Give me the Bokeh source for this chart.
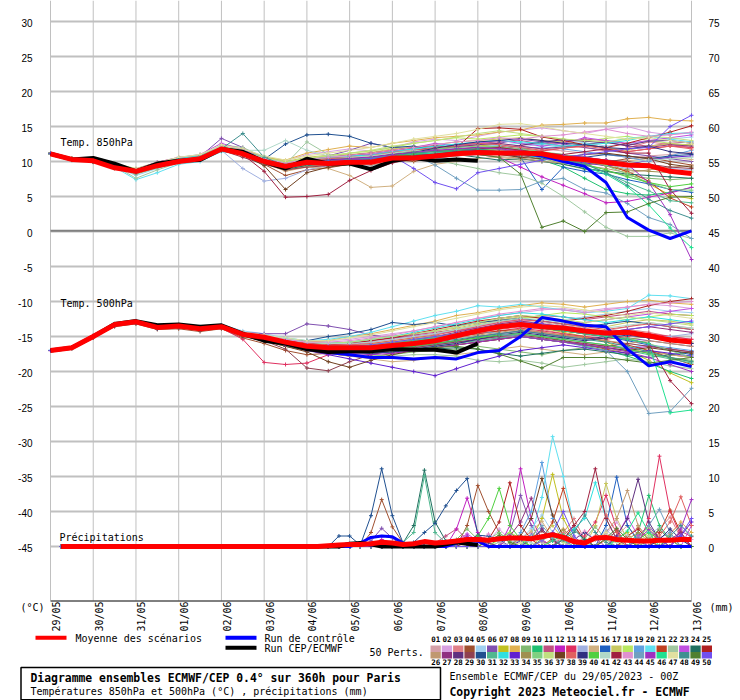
from math import pi
from bokeh.plotting import figure
from bokeh.models import Range1d, ColumnDataSource
from bokeh.core.properties import value
from bokeh.embed import file_html
from bokeh.resources import INLINE

# ---------------- data ----------------
DATES = ["29/05", "30/05", "31/05", "01/06", "02/06", "03/06", "04/06", "05/06",
         "06/06", "07/06", "08/06", "09/06", "10/06", "11/06", "12/06", "13/06"]
LEFT_TICKS = list(range(-45, 31, 5))    # °C
RIGHT_TICKS = list(range(0, 76, 5))     # mm

COLORS = ["#d4a0a8", "#d8a0e0", "#e08088", "#a05030", "#a0d0f0", "#8050b0", "#c0c020", "#e0b050",
          "#80b870", "#20c070", "#c05080", "#c020c0", "#e03060", "#a0b0e0", "#d0b080", "#2060c0",
          "#c8c860", "#b8e860", "#60a0e0", "#60e0f0", "#c04020", "#a0c8a0", "#c050e0", "#207060",
          "#b02020", "#c09870", "#903080", "#603080", "#904050", "#205090", "#50b890", "#30e0e0",
          "#6020d0", "#a09050", "#80d080", "#c0e080", "#704020", "#e06060", "#303080", "#50d040",
          "#b0d8c8", "#a02040", "#e090d0", "#70a0c0", "#a030c0", "#20e090", "#e0e0a0", "#409090",
          "#508030", "#7050f0"]

HOURS_T = list(range(0, 361, 12))      # temperature steps (h)
HOURS_P = list(range(6, 361, 6))       # precipitation steps (h)

T850 = [
    [11.2,10.4,10.0,9.2,8.3,9.2,10.0,10.5,11.6,11.0,10.2,9.8,10.4,10.5,10.9,11.2,11.6,11.5,11.8,12.0,12.2,12.4,12.1,11.8,11.5,11.2,11.0,10.6,10.8,11.0,11.3],
    [11.0,10.2,10.3,9.6,8.9,9.8,10.5,10.8,12.3,11.6,10.6,10.1,11.0,11.4,11.8,11.5,12.0,12.8,13.2,13.0,13.6,14.2,14.5,14.8,14.4,14.0,14.6,15.0,14.2,13.8,14.1],
    [11.1,10.3,10.1,9.5,8.5,9.4,10.2,10.6,11.9,11.3,10.1,9.0,9.5,9.8,10.2,10.6,11.0,10.8,11.3,11.7,12.1,11.8,12.3,12.6,12.2,12.0,11.5,11.9,12.8,12.4,12.0],
    [11.1,10.4,9.9,9.0,8.4,9.6,10.3,10.9,12.0,11.0,9.6,8.0,8.8,9.1,9.6,9.8,10.3,10.0,10.6,10.9,11.0,11.4,11.2,10.8,10.2,9.5,9.9,10.4,10.6,10.0,9.5],
    [11.0,10.2,10.2,9.3,8.0,9.0,10.0,10.2,11.4,11.5,10.8,9.9,10.2,10.6,11.0,10.8,11.3,11.6,11.4,11.9,12.5,12.3,12.0,12.6,13.0,12.7,12.2,12.5,12.9,13.2,13.5],
    [11.2,10.3,10.0,9.4,8.7,9.7,10.4,10.7,13.3,12.0,10.4,9.4,10.2,10.8,11.6,12.6,12.0,11.8,12.2,12.0,12.4,12.6,13.2,12.8,12.5,12.0,11.6,11.2,10.8,10.4,10.0],
    [11.1,10.3,10.2,9.5,8.8,9.6,10.4,10.8,11.9,11.4,10.4,9.8,10.2,10.6,10.4,10.6,11.0,11.4,11.8,12.2,12.4,12.0,11.6,11.3,10.8,10.5,10.0,8.4,6.8,5.2,4.7],
    [11.0,10.2,10.0,9.3,8.6,9.4,10.2,10.6,12.1,11.8,10.6,10.2,11.2,11.7,12.2,12.0,12.6,13.0,13.4,13.6,13.8,14.2,14.5,15.2,15.3,15.5,15.5,16.1,16.3,15.9,15.8],
    [11.2,10.4,10.1,9.2,8.2,9.1,9.8,10.2,11.5,11.0,9.8,8.8,9.4,9.6,9.8,10.0,10.4,10.9,11.2,11.0,11.5,11.8,11.2,10.5,9.6,8.9,8.6,8.0,7.6,7.4,7.6],
    [11.1,10.3,10.0,9.3,8.4,9.3,9.9,10.3,11.7,11.2,10.0,9.1,9.6,9.9,10.1,10.5,10.8,10.6,11.0,11.4,11.6,11.3,11.0,10.2,9.2,7.6,6.0,5.4,5.2,5.6,6.3],
    [11.0,10.3,10.2,9.6,8.9,9.9,10.6,10.9,12.0,11.3,10.3,9.6,10.0,10.3,10.6,11.0,11.2,11.6,11.9,12.4,12.6,12.8,13.0,12.5,12.8,13.2,13.0,12.5,12.2,12.6,12.8],
    [11.1,10.4,10.1,9.4,8.6,9.5,10.2,10.5,11.9,11.3,10.2,9.3,9.8,10.0,10.2,10.4,10.2,10.4,10.8,10.9,11.0,10.6,9.2,7.8,6.6,5.4,4.1,4.3,4.9,5.5,6.3],
    [11.2,10.3,10.0,9.2,8.4,9.4,10.0,10.3,11.6,11.0,10.0,9.2,9.6,9.4,9.8,10.2,10.6,11.0,11.4,11.6,12.0,12.2,11.8,11.5,11.9,12.3,12.0,11.4,11.8,12.2,12.0],
    [11.0,10.3,10.1,9.5,8.7,9.4,10.0,10.4,11.6,9.0,7.2,7.6,8.8,9.4,9.8,9.4,10.0,10.4,10.6,10.8,11.0,11.6,11.4,11.0,10.6,10.2,9.6,9.0,9.4,9.0,8.8],
    [11.1,10.2,10.0,9.3,8.5,9.2,9.8,10.3,11.5,11.0,9.8,8.6,9.2,9.0,8.0,6.3,6.5,8.6,9.6,10.0,10.4,10.6,10.2,10.4,10.0,9.8,9.6,10.1,10.4,10.6,10.3],
    [11.1,10.3,10.1,9.4,8.6,9.4,10.1,10.5,11.8,11.2,10.2,9.4,10.0,10.2,10.5,10.7,11.0,11.2,11.5,11.4,11.6,11.2,10.6,6.0,9.2,8.6,8.2,7.4,6.8,6.0,5.6],
    [11.0,10.4,10.3,9.7,9.0,9.9,10.5,10.9,12.2,11.6,10.6,10.0,10.6,10.9,11.0,11.3,11.8,12.1,12.4,12.8,13.0,13.2,13.4,13.0,12.8,12.4,12.0,11.6,12.2,12.5,12.4],
    [11.2,10.3,10.0,9.4,8.7,9.6,10.3,10.6,11.9,11.2,10.4,10.0,10.4,10.8,11.2,11.5,12.0,12.6,13.0,13.4,13.2,13.5,13.8,13.6,13.2,12.9,13.3,13.6,13.0,12.6,12.2],
    [11.1,10.3,10.1,9.3,8.4,9.3,9.9,10.2,11.5,11.0,9.9,9.0,9.5,9.6,9.8,10.0,10.6,10.8,10.4,10.9,11.2,11.5,11.8,12.1,11.8,11.4,11.0,10.6,10.0,10.8,11.6],
    [11.0,10.2,10.0,9.2,7.4,8.4,9.6,10.0,11.4,11.1,10.2,9.6,10.2,10.4,10.8,11.2,11.4,11.8,12.0,12.3,12.5,12.3,12.6,12.4,12.0,12.5,12.8,13.3,13.6,13.2,12.8],
    [11.1,10.3,10.1,9.5,8.6,9.4,10.0,10.4,11.7,11.1,9.9,9.0,9.5,9.8,10.2,10.4,10.9,11.0,11.3,11.5,11.7,11.4,11.2,10.8,10.4,10.0,9.4,8.6,7.2,4.8,3.5],
    [11.1,10.4,10.2,9.4,7.6,8.8,9.8,10.4,12.4,12.0,10.6,9.6,12.8,11.0,10.3,10.8,10.8,10.6,10.2,9.6,9.0,8.4,8.0,6.9,5.0,2.8,0.6,-0.7,-0.7,-0.2,-1.0],
    [11.0,10.3,10.1,9.5,8.9,9.9,10.5,11.0,12.6,11.7,10.4,9.6,10.0,10.4,10.8,11.0,11.4,12.0,12.6,12.2,12.6,13.0,12.6,12.2,12.6,13.4,13.0,12.6,13.0,13.4,13.8],
    [11.1,10.3,10.0,9.3,8.5,9.4,10.0,10.3,11.6,11.0,9.7,8.9,9.4,9.6,9.9,10.0,10.4,10.6,10.8,11.0,10.6,10.2,10.4,10.0,9.6,9.0,8.6,8.2,8.0,7.8,7.6],
    [11.1,10.4,10.1,9.5,8.7,9.6,10.2,10.6,11.9,11.3,10.3,9.6,10.3,10.6,10.9,11.2,11.6,12.0,12.3,12.0,14.7,14.8,14.6,13.5,13.0,12.4,12.0,12.6,13.4,14.2,15.1],
    [11.2,10.4,10.2,9.4,8.5,9.3,10.0,10.4,11.6,11.0,9.7,8.7,9.3,9.5,9.7,9.5,10.0,10.2,10.5,10.8,11.0,10.7,10.5,10.0,9.8,9.4,9.0,8.4,8.8,9.2,9.4],
    [11.0,10.3,10.1,9.4,8.7,9.5,10.1,10.4,12.0,11.4,10.2,9.5,10.0,10.3,10.6,10.6,11.0,11.3,11.7,12.1,12.4,12.6,12.2,11.8,12.1,12.4,12.8,12.2,12.0,12.4,12.2],
    [11.1,10.3,10.1,9.5,8.7,9.6,10.2,10.5,11.9,11.2,10.1,9.2,9.8,10.1,10.4,10.6,11.0,11.4,11.5,11.8,12.0,11.8,12.3,12.8,13.1,12.9,12.7,12.3,12.9,13.0,12.6],
    [11.1,10.2,10.0,9.3,8.6,9.4,10.0,10.3,11.6,10.6,9.6,8.8,9.2,9.4,9.6,9.9,10.2,10.5,10.8,11.2,11.4,11.0,10.8,10.6,10.4,10.6,10.2,10.0,9.6,9.2,9.0],
    [11.1,10.3,10.1,9.4,8.6,9.5,10.1,10.4,11.8,11.2,10.3,12.5,13.8,13.9,13.6,12.6,12.0,12.2,11.6,11.4,11.8,12.0,11.6,11.2,10.9,10.6,11.0,10.8,10.4,10.8,11.0],
    [11.2,10.3,10.0,9.3,8.5,9.3,10.0,10.4,11.6,11.0,9.8,9.0,9.6,9.8,10.0,10.3,10.7,11.0,11.3,11.6,11.9,12.0,11.6,11.2,10.6,9.8,8.4,7.0,5.8,4.4,4.1],
    [11.0,10.3,10.2,9.6,8.8,9.7,10.4,10.8,12.0,11.5,10.5,9.8,10.3,10.6,10.8,10.9,11.4,11.8,12.2,12.5,12.8,13.0,12.8,12.6,12.2,12.4,12.6,13.0,13.6,14.0,14.1],
    [11.1,10.3,10.1,9.4,8.6,9.5,10.1,10.5,11.8,11.2,10.1,9.4,9.9,10.2,10.4,10.6,10.9,11.0,11.2,11.3,11.5,11.2,11.0,10.6,10.2,9.8,9.4,9.6,10.2,10.6,10.8],
    [11.1,10.3,10.0,9.2,8.4,9.4,10.0,10.4,11.7,11.0,9.9,9.1,9.7,10.0,10.3,10.5,10.8,11.2,11.5,11.6,11.8,11.5,11.2,11.0,10.6,10.0,9.4,8.8,8.6,8.4,8.5],
    [11.2,10.4,10.2,9.5,8.8,9.7,10.3,10.6,11.8,11.2,10.4,9.7,10.2,10.4,10.6,10.8,11.2,11.4,11.8,12.0,12.2,12.1,11.8,11.4,11.0,10.4,9.4,8.2,7.0,6.0,5.9],
    [11.0,10.3,10.1,9.4,8.6,9.5,10.2,10.6,12.0,11.4,10.5,9.9,10.4,10.8,11.2,11.6,12.2,12.6,13.0,13.5,14.0,14.4,14.0,13.6,13.2,13.0,12.8,13.2,13.6,13.4,13.0],
    [11.1,10.3,10.0,9.4,8.6,9.4,10.0,10.3,11.6,11.0,9.4,6.0,8.4,9.2,9.6,9.8,10.3,10.6,10.9,11.2,11.4,11.0,10.6,10.4,10.6,11.0,11.2,10.8,10.4,9.6,9.2],
    [11.1,10.3,10.1,9.5,8.7,9.6,10.2,10.6,11.9,11.3,10.2,9.6,10.1,10.4,10.6,10.8,11.3,11.6,12.0,12.3,12.6,12.4,12.0,11.6,11.9,12.2,11.8,11.4,11.8,12.2,11.8],
    [11.1,10.3,10.0,9.3,8.5,9.4,10.0,10.3,11.7,11.1,10.0,9.2,9.8,10.1,10.3,10.4,10.9,11.3,11.9,12.4,12.8,13.0,13.3,13.0,12.6,12.4,12.0,11.8,12.2,11.4,11.1],
    [11.2,10.4,10.1,9.4,8.6,9.5,10.1,10.5,11.8,11.2,10.1,9.4,9.9,10.1,10.3,10.5,10.9,11.1,11.4,11.6,11.8,11.5,11.2,10.8,10.2,9.6,8.8,7.8,7.0,6.4,6.8],
    [11.0,10.2,10.0,9.4,8.8,9.8,10.6,11.0,12.2,11.6,11.6,13.0,11.6,10.8,10.6,10.8,11.2,11.6,11.2,11.0,11.3,11.6,11.0,10.6,10.8,10.4,10.0,9.8,10.2,10.4,10.6],
    [11.1,10.3,10.1,9.4,8.6,9.4,10.0,10.4,11.6,11.0,8.6,4.9,5.0,5.3,7.3,8.7,9.8,10.4,10.9,11.4,11.8,12.0,11.6,11.2,11.0,11.4,11.8,11.2,11.2,6.0,2.6],
    [11.1,10.4,10.2,9.5,8.7,9.6,10.2,10.6,12.0,11.4,10.4,9.8,10.3,10.6,10.9,11.2,11.6,12.0,12.4,12.8,13.0,13.4,13.2,13.6,13.8,14.2,14.6,14.0,13.6,13.8,14.2],
    [11.1,10.3,10.1,9.3,8.5,9.4,10.0,10.4,11.7,11.1,10.0,9.2,9.7,9.9,10.2,10.4,10.8,10.9,9.5,7.6,5.9,5.9,6.0,7.2,7.6,6.0,5.5,4.0,2.0,1.0,-1.0],
    [11.2,10.3,10.0,9.4,8.6,9.4,10.0,10.4,11.8,11.1,10.0,9.3,9.9,10.1,10.4,10.6,11.0,11.3,11.6,11.8,12.0,11.8,11.5,11.2,10.8,10.6,10.2,9.6,7.0,2.4,-4.0],
    [11.1,10.3,10.1,9.4,8.6,9.5,10.1,10.4,11.8,11.2,10.0,9.3,9.8,10.0,10.2,10.4,10.8,11.0,11.2,11.4,11.6,11.4,11.0,10.6,10.0,9.2,8.2,6.4,3.8,0.5,-2.3],
    [11.0,10.3,10.2,9.6,8.9,9.8,10.6,11.0,12.4,11.8,10.8,10.2,10.8,11.2,11.6,12.0,12.6,13.2,13.6,14.0,14.6,15.3,15.4,15.0,14.4,14.0,13.6,13.2,13.4,13.0,12.6],
    [11.1,10.3,10.0,9.3,8.6,9.5,10.2,10.6,11.8,14.0,10.6,9.4,9.8,10.0,10.2,10.4,10.8,11.2,11.4,11.6,11.8,11.4,11.2,10.8,10.4,9.6,8.4,6.6,4.6,3.0,1.9],
    [11.1,10.3,10.0,9.4,8.6,9.5,10.1,10.4,11.7,11.1,10.0,9.2,9.7,9.9,10.1,10.3,10.7,10.9,11.0,11.2,11.0,10.6,8.2,0.6,1.5,0.0,2.7,2.8,4.0,4.9,5.0],
    [11.1,10.3,10.1,9.4,8.6,9.5,10.1,10.4,11.8,11.2,10.0,9.2,9.8,10.0,10.2,10.4,10.8,9.0,7.0,6.1,8.4,9.0,9.6,10.2,10.6,11.0,11.4,11.8,12.0,15.0,16.6],
]

T500 = [
    [-17.0,-16.5,-15.0,-13.4,-13.0,-13.8,-13.4,-13.8,-13.5,-14.4,-15.0,-15.6,-16.0,-16.2,-16.4,-16.0,-15.8,-15.4,-15.0,-14.6,-14.0,-13.2,-12.8,-13.0,-13.4,-13.8,-14.2,-13.6,-13.0,-13.4,-13.8],
    [-17.1,-16.6,-14.9,-13.2,-12.8,-13.6,-13.3,-13.7,-13.4,-14.4,-14.8,-15.4,-15.8,-15.6,-15.4,-15.0,-14.6,-14.2,-13.6,-13.0,-12.4,-12.0,-11.6,-11.2,-11.0,-11.4,-11.0,-10.8,-10.4,-10.6,-11.0],
    [-17.0,-16.6,-15.1,-13.4,-12.8,-13.9,-13.7,-14.1,-13.8,-15.0,-15.6,-16.4,-17.0,-17.4,-17.0,-16.8,-16.4,-16.0,-15.6,-15.0,-14.4,-14.0,-13.6,-14.0,-14.6,-15.0,-14.6,-14.0,-14.4,-15.0,-15.4],
    [-17.0,-16.7,-15.2,-13.6,-13.2,-14.0,-13.9,-14.3,-13.9,-15.2,-16.0,-17.0,-17.6,-17.4,-17.8,-18.0,-17.4,-17.0,-16.6,-16.2,-15.8,-15.4,-15.0,-15.4,-15.8,-16.2,-16.8,-17.4,-17.0,-17.6,-18.0],
    [-16.9,-16.5,-14.9,-13.2,-12.7,-13.5,-13.3,-13.6,-13.3,-14.2,-14.6,-15.2,-15.6,-15.8,-16.0,-15.6,-15.2,-14.8,-14.2,-13.6,-13.0,-12.4,-12.0,-12.4,-12.6,-12.2,-11.8,-11.4,-11.0,-11.4,-11.6],
    [-17.0,-16.6,-15.0,-13.3,-12.9,-13.6,-13.4,-13.8,-13.5,-14.4,-14.6,-14.6,-13.2,-13.5,-14.0,-14.8,-15.2,-15.0,-14.6,-14.2,-13.8,-13.4,-13.0,-13.4,-13.8,-14.2,-14.8,-15.2,-15.6,-16.0,-16.4],
    [-17.0,-16.6,-15.0,-13.4,-13.0,-13.8,-13.6,-14.0,-13.7,-14.8,-15.2,-16.0,-16.6,-16.8,-16.4,-16.2,-15.8,-15.4,-15.0,-14.6,-14.2,-13.8,-13.4,-13.8,-14.4,-15.0,-15.8,-17.0,-18.4,-20.2,-21.6],
    [-17.0,-16.5,-14.9,-13.2,-12.8,-13.6,-13.4,-13.8,-13.4,-14.4,-14.8,-15.4,-15.8,-15.6,-15.0,-14.6,-14.0,-13.4,-12.8,-12.0,-11.6,-11.0,-10.6,-10.2,-10.4,-10.8,-10.4,-10.0,-9.8,-10.2,-10.4],
    [-17.0,-16.6,-15.1,-13.4,-13.0,-13.8,-13.6,-14.0,-13.7,-14.9,-15.4,-16.2,-16.8,-17.2,-17.6,-17.8,-17.6,-17.2,-17.0,-16.8,-16.4,-16.8,-17.2,-17.6,-17.0,-16.6,-16.2,-16.8,-17.4,-18.0,-18.4],
    [-17.0,-16.7,-15.1,-13.5,-13.1,-13.9,-13.7,-14.1,-13.8,-15.0,-15.6,-16.4,-17.0,-17.4,-17.2,-17.0,-16.8,-16.4,-16.0,-15.6,-15.2,-14.8,-14.6,-15.0,-15.6,-16.4,-17.0,-17.8,-18.8,-20.0,-21.0],
    [-17.0,-16.6,-15.0,-13.3,-12.9,-13.7,-13.5,-13.9,-13.6,-14.6,-15.0,-15.6,-16.0,-16.2,-16.0,-15.6,-15.2,-14.8,-14.4,-14.0,-13.4,-12.8,-12.4,-12.0,-12.2,-12.6,-12.2,-11.8,-11.4,-11.8,-12.0],
    [-17.0,-16.6,-15.0,-13.3,-12.9,-13.7,-13.5,-13.9,-13.6,-14.7,-15.2,-15.8,-16.4,-16.8,-17.0,-17.2,-17.0,-16.6,-16.2,-15.8,-15.6,-15.2,-15.0,-15.4,-15.8,-16.0,-16.4,-16.8,-16.4,-16.8,-17.2],
    [-17.0,-16.6,-15.0,-13.4,-13.0,-13.8,-13.6,-14.0,-13.8,-15.4,-18.7,-19.0,-18.8,-17.6,-17.0,-16.6,-16.2,-15.8,-15.4,-15.0,-14.6,-14.2,-13.8,-14.2,-14.6,-15.0,-15.4,-15.0,-14.6,-15.0,-15.4],
    [-17.0,-16.6,-15.0,-13.3,-12.9,-13.6,-13.4,-13.8,-13.5,-14.5,-15.0,-15.6,-16.2,-16.4,-16.6,-16.4,-16.0,-15.6,-15.2,-14.8,-14.2,-13.6,-13.2,-13.4,-13.8,-14.0,-14.4,-14.8,-15.2,-15.0,-14.6],
    [-17.0,-16.6,-15.0,-13.3,-12.8,-13.6,-13.5,-13.9,-13.6,-14.8,-15.4,-16.0,-16.8,-17.4,-17.8,-18.2,-18.6,-18.4,-18.0,-17.6,-17.2,-16.8,-16.4,-16.8,-17.2,-17.6,-17.2,-16.8,-17.2,-17.6,-18.0],
    [-17.0,-16.6,-15.0,-13.3,-12.9,-13.7,-13.5,-13.9,-13.6,-14.6,-15.0,-15.6,-16.0,-16.2,-16.4,-16.4,-16.2,-15.8,-15.4,-15.0,-14.4,-13.8,-13.4,-13.8,-14.2,-14.6,-15.0,-15.6,-16.2,-17.0,-17.6],
    [-17.0,-16.5,-14.9,-13.2,-12.8,-13.5,-13.3,-13.7,-13.4,-14.4,-14.8,-15.4,-15.8,-16.0,-15.8,-15.4,-15.0,-14.6,-14.2,-13.8,-13.2,-12.6,-12.2,-12.4,-12.8,-13.2,-13.6,-13.0,-12.6,-12.8,-13.2],
    [-17.0,-16.6,-15.0,-13.3,-12.9,-13.7,-13.5,-13.9,-13.6,-14.6,-15.0,-15.6,-16.0,-16.2,-16.2,-16.0,-15.6,-15.2,-14.6,-14.0,-13.4,-12.8,-12.4,-12.0,-11.6,-11.8,-12.2,-12.6,-12.2,-11.8,-12.0],
    [-17.0,-16.6,-15.0,-13.4,-13.0,-13.8,-13.6,-14.0,-13.7,-14.8,-15.4,-16.0,-16.6,-17.0,-17.2,-17.4,-17.0,-16.6,-16.2,-15.8,-15.4,-15.0,-14.6,-15.0,-15.4,-15.8,-16.2,-16.6,-16.2,-16.6,-17.0],
    [-17.0,-16.5,-14.9,-13.2,-12.8,-13.6,-13.4,-13.8,-13.4,-14.4,-14.8,-15.2,-15.6,-15.4,-15.0,-14.4,-13.6,-12.8,-12.0,-11.4,-10.6,-10.8,-10.4,-10.8,-11.2,-11.6,-11.4,-11.0,-9.1,-9.2,-9.6],
    [-17.0,-16.6,-15.0,-13.3,-12.9,-13.7,-13.5,-13.9,-13.6,-14.7,-15.2,-15.8,-16.4,-16.6,-16.8,-16.6,-16.2,-15.8,-15.4,-15.0,-14.6,-14.2,-14.0,-14.4,-14.8,-15.2,-15.6,-16.2,-17.0,-18.0,-19.0],
    [-17.0,-16.6,-15.0,-13.4,-13.0,-13.8,-13.6,-14.0,-13.7,-14.8,-15.4,-16.2,-16.8,-17.2,-17.6,-17.8,-17.8,-17.6,-17.6,-17.8,-18.4,-18.6,-18.4,-18.8,-19.4,-19.0,-18.6,-18.2,-18.6,-19.2,-19.6],
    [-17.0,-16.5,-14.9,-13.2,-12.8,-13.6,-13.4,-13.8,-13.5,-14.5,-14.9,-15.5,-16.0,-16.2,-16.2,-15.8,-15.4,-15.0,-14.6,-14.2,-13.6,-13.0,-12.6,-12.8,-13.2,-13.0,-12.6,-12.2,-11.8,-11.4,-11.0],
    [-17.0,-16.6,-15.0,-13.4,-13.0,-13.8,-13.6,-14.0,-13.7,-14.8,-15.4,-16.2,-16.8,-17.2,-17.4,-17.4,-17.2,-17.0,-16.8,-16.6,-16.8,-17.4,-17.8,-17.4,-17.0,-16.8,-17.2,-17.6,-18.0,-17.6,-17.2],
    [-17.0,-16.6,-15.0,-13.3,-12.9,-13.7,-13.5,-13.9,-13.6,-14.6,-15.0,-15.6,-16.0,-16.2,-16.0,-15.6,-15.2,-14.6,-14.0,-13.4,-12.8,-12.4,-12.0,-12.4,-12.8,-12.4,-12.0,-11.4,-10.6,-10.0,-9.6],
    [-17.0,-16.6,-15.0,-13.3,-12.9,-13.7,-13.5,-13.9,-13.6,-14.7,-15.2,-15.8,-16.4,-16.8,-16.8,-16.6,-16.4,-16.0,-15.6,-15.2,-14.8,-14.4,-14.0,-14.4,-14.8,-15.2,-15.6,-16.0,-15.6,-16.0,-16.4],
    [-17.0,-16.6,-15.0,-13.3,-12.9,-13.7,-13.5,-13.9,-13.6,-14.6,-15.0,-15.6,-16.2,-16.4,-16.6,-16.4,-16.0,-15.6,-15.0,-14.4,-13.8,-13.2,-12.8,-13.2,-13.6,-14.0,-14.4,-14.0,-13.6,-14.0,-14.4],
    [-17.0,-16.7,-15.1,-13.5,-13.1,-13.9,-13.7,-14.1,-13.8,-14.9,-15.4,-16.2,-16.8,-17.2,-17.2,-17.0,-16.8,-16.4,-16.0,-15.6,-15.0,-14.6,-14.2,-14.6,-15.0,-15.4,-15.0,-14.6,-15.0,-15.6,-16.0],
    [-17.0,-16.6,-15.1,-13.4,-13.0,-13.8,-13.6,-14.0,-13.7,-14.9,-15.6,-16.8,-19.5,-19.9,-18.6,-17.6,-17.0,-16.6,-16.2,-15.8,-15.4,-15.0,-14.8,-15.2,-15.6,-16.0,-16.4,-16.0,-16.4,-16.8,-17.2],
    [-17.0,-16.6,-15.0,-13.3,-12.9,-13.7,-13.5,-13.9,-13.6,-14.6,-15.0,-15.6,-15.6,-15.0,-14.6,-14.0,-13.0,-13.3,-13.0,-13.5,-13.0,-12.7,-12.4,-12.8,-13.2,-13.6,-13.2,-12.8,-13.2,-13.6,-14.0],
    [-17.0,-16.6,-15.0,-13.3,-12.9,-13.7,-13.5,-13.9,-13.6,-14.7,-15.2,-15.8,-16.4,-16.6,-16.8,-17.0,-17.0,-16.8,-16.4,-16.0,-15.6,-15.2,-15.0,-15.4,-15.8,-16.2,-16.6,-17.0,-17.6,-18.2,-18.8],
    [-17.0,-16.5,-14.9,-13.2,-12.8,-13.6,-13.4,-13.8,-13.5,-14.5,-14.9,-15.4,-15.8,-16.0,-15.8,-15.4,-15.0,-14.4,-13.8,-13.2,-12.6,-12.0,-11.6,-11.8,-12.2,-12.6,-13.0,-12.6,-12.2,-12.6,-13.0],
    [-17.0,-16.6,-15.0,-13.4,-13.0,-13.8,-13.6,-14.0,-13.7,-14.8,-15.4,-16.2,-17.0,-17.6,-18.2,-18.8,-19.4,-20.0,-20.6,-19.6,-18.6,-17.8,-17.0,-16.6,-16.2,-16.6,-17.0,-17.4,-17.0,-17.4,-17.8],
    [-17.0,-16.6,-15.0,-13.3,-12.9,-13.7,-13.5,-13.9,-13.6,-14.7,-15.1,-15.8,-16.4,-16.6,-16.6,-16.6,-16.4,-16.0,-15.6,-15.0,-14.4,-13.8,-13.4,-13.8,-14.2,-14.6,-15.0,-15.4,-15.0,-15.4,-15.8],
    [-17.0,-16.6,-15.0,-13.3,-12.9,-13.7,-13.5,-13.9,-13.6,-14.6,-15.0,-15.6,-16.2,-16.4,-16.4,-16.2,-15.8,-15.4,-15.0,-14.6,-14.0,-13.4,-13.0,-13.4,-13.8,-14.2,-14.6,-15.2,-16.0,-17.0,-18.0],
    [-17.0,-16.6,-15.0,-13.3,-12.9,-13.7,-13.5,-13.9,-13.6,-14.5,-14.9,-15.4,-15.8,-16.0,-15.8,-15.4,-15.0,-14.6,-14.2,-13.6,-13.0,-12.4,-12.0,-12.2,-12.6,-13.0,-12.6,-12.2,-12.6,-13.0,-13.4],
    [-17.0,-16.6,-15.0,-13.4,-13.0,-13.8,-13.6,-14.0,-13.7,-14.9,-15.6,-16.4,-17.2,-18.6,-19.4,-18.4,-17.6,-17.0,-16.6,-16.2,-15.8,-15.4,-15.0,-15.4,-15.8,-16.2,-16.6,-17.0,-16.6,-17.0,-17.4],
    [-17.0,-16.6,-15.0,-13.3,-12.9,-13.7,-13.5,-13.9,-13.6,-14.6,-15.0,-15.6,-16.0,-16.2,-16.2,-16.0,-15.6,-15.2,-14.8,-14.2,-13.6,-13.0,-12.6,-12.8,-13.2,-13.6,-14.0,-13.6,-13.2,-13.6,-14.0],
    [-17.0,-16.6,-15.1,-13.4,-13.0,-13.8,-13.6,-14.0,-13.7,-14.8,-15.3,-16.0,-16.6,-17.0,-17.2,-17.4,-17.2,-16.8,-16.4,-16.0,-15.4,-14.8,-14.4,-14.8,-15.2,-15.6,-15.2,-14.8,-15.2,-15.6,-16.0],
    [-17.0,-16.6,-15.0,-13.3,-12.9,-13.7,-13.5,-13.9,-13.6,-14.7,-15.2,-15.8,-16.4,-16.8,-17.0,-17.0,-16.8,-16.4,-16.0,-15.6,-15.2,-14.8,-14.6,-15.0,-15.4,-15.8,-16.2,-16.8,-17.4,-18.0,-18.6],
    [-17.0,-16.6,-15.0,-13.3,-12.9,-13.6,-13.4,-13.8,-13.5,-14.5,-14.9,-15.4,-15.8,-16.0,-16.0,-15.8,-15.4,-15.0,-14.6,-14.0,-13.4,-12.8,-12.4,-12.6,-13.0,-13.4,-13.8,-13.4,-13.0,-13.4,-13.8],
    [-17.0,-16.6,-15.0,-13.3,-12.9,-13.7,-13.5,-13.9,-13.6,-14.7,-15.2,-15.8,-16.4,-16.6,-16.6,-16.4,-16.0,-15.6,-15.2,-14.8,-14.2,-13.8,-13.4,-13.8,-14.2,-14.6,-15.0,-15.4,-16.0,-21.3,-24.6],
    [-17.0,-16.5,-14.9,-13.2,-12.8,-13.6,-13.4,-13.8,-13.4,-14.4,-14.8,-15.4,-15.8,-15.8,-15.6,-15.2,-14.8,-14.2,-13.6,-13.0,-12.4,-11.8,-11.4,-11.0,-11.2,-11.6,-11.2,-10.8,-10.4,-10.2,-10.0],
    [-17.0,-16.6,-15.0,-13.3,-12.9,-13.7,-13.5,-13.9,-13.6,-14.7,-15.2,-15.8,-16.4,-16.6,-16.6,-16.4,-16.0,-15.6,-15.2,-14.8,-14.2,-14.6,-15.0,-15.4,-15.8,-16.4,-17.0,-20.0,-26.0,-25.7,-22.4],
    [-17.0,-16.6,-15.0,-13.4,-13.0,-13.8,-13.6,-14.0,-13.7,-14.8,-15.4,-16.2,-16.8,-17.2,-17.4,-17.6,-17.4,-17.0,-16.6,-16.2,-15.8,-15.4,-15.0,-15.4,-15.8,-16.2,-16.6,-17.2,-18.0,-19.0,-20.0],
    [-17.0,-16.6,-15.0,-13.3,-12.9,-13.7,-13.5,-13.9,-13.6,-14.7,-15.1,-15.8,-16.4,-16.6,-16.6,-16.4,-16.0,-15.6,-15.2,-14.8,-14.2,-13.8,-13.4,-13.8,-14.2,-14.6,-15.0,-15.4,-16.0,-25.9,-25.5],
    [-17.0,-16.5,-14.9,-13.2,-12.8,-13.6,-13.4,-13.8,-13.5,-14.4,-14.8,-15.2,-15.6,-15.6,-15.2,-14.8,-14.2,-13.6,-13.0,-12.4,-11.8,-11.2,-10.8,-10.6,-10.8,-11.2,-11.6,-12.0,-11.6,-12.0,-12.4],
    [-17.0,-16.6,-15.0,-13.3,-12.9,-13.7,-13.5,-13.9,-13.6,-14.7,-15.2,-15.8,-16.4,-16.8,-17.0,-16.8,-16.6,-16.2,-15.8,-15.4,-15.0,-14.6,-14.2,-14.6,-15.0,-15.4,-15.8,-16.4,-17.2,-18.0,-18.6],
    [-17.0,-16.6,-15.0,-13.4,-13.0,-13.8,-13.6,-14.0,-13.7,-14.8,-15.3,-16.0,-16.6,-17.0,-17.2,-17.2,-17.0,-16.8,-16.6,-16.4,-16.8,-17.5,-18.5,-19.5,-18.0,-18.0,-18.0,-18.4,-18.8,-18.4,-18.0],
    [-17.0,-16.6,-15.0,-13.3,-12.9,-13.7,-13.5,-13.9,-13.6,-14.6,-15.0,-15.6,-16.2,-16.4,-16.4,-16.2,-15.8,-15.4,-15.0,-14.6,-14.0,-13.4,-13.0,-13.2,-13.6,-14.0,-14.4,-14.0,-13.6,-13.2,-12.8],
]

# precipitation (mm per 6 h), keyed by 6-hour step number (1 = +6 h ... 60 = +360 h); absent = 0
PRECIP = [
    {28: 0.5, 29: 0.3, 44: 1.2, 45: 2.0, 46: 0.8, 53: 1.5, 54: 3.0, 55: 1.0},
    {41: 0.8, 42: 2.5, 43: 1.0, 52: 1.8, 53: 3.5, 54: 1.2, 58: 2.0, 59: 3.2, 60: 1.0},
    {39: 0.6, 40: 1.5, 41: 0.5, 48: 2.0, 49: 4.0, 50: 1.0, 57: 2.5, 58: 4.2, 59: 1.2},
    {30: 2.0, 31: 6.7, 32: 2.8, 33: 0.5, 39: 3.0, 40: 8.7, 41: 5.0, 42: 2.0, 43: 0.5, 52: 1.0, 53: 2.2},
    {44: 1.0, 45: 2.6, 46: 4.5, 47: 2.0, 48: 0.6, 56: 1.5, 57: 2.8, 58: 1.0},
    {30: 0.8, 31: 2.6, 32: 1.2, 43: 2.0, 44: 7.3, 45: 3.0, 46: 0.8, 55: 1.5, 56: 3.0, 57: 1.0},
    {45: 1.0, 46: 4.0, 47: 10.3, 48: 4.0, 49: 1.0, 53: 1.2, 54: 2.0},
    {47: 1.0, 48: 2.5, 49: 1.0, 58: 1.8, 59: 3.5, 60: 2.0},
    {38: 1.0, 39: 2.5, 40: 1.0, 50: 1.2, 51: 2.8, 52: 1.0},
    {42: 1.2, 43: 2.0, 44: 0.8, 55: 2.0, 56: 7.3, 57: 3.0, 58: 1.0},
    {36: 0.5, 37: 1.5, 38: 2.5, 39: 1.0, 48: 1.6, 49: 3.0, 50: 1.0, 59: 2.2, 60: 1.4},
    {31: 1.0, 32: 0.5, 38: 2.5, 39: 6.9, 40: 2.0, 43: 3.0, 44: 11.1, 45: 4.0, 46: 1.0},
    {50: 1.5, 51: 3.5, 52: 7.3, 53: 2.5, 56: 4.0, 57: 12.9, 58: 5.0, 59: 1.5},
    {40: 0.8, 41: 1.6, 42: 0.6, 51: 1.0, 52: 2.4, 53: 1.0},
    {44: 1.0, 45: 2.2, 46: 3.6, 47: 1.2, 54: 1.4, 55: 2.8, 56: 1.0},
    {45: 1.0, 46: 2.5, 47: 1.0, 52: 3.0, 53: 9.9, 54: 3.0, 55: 0.8},
    {46: 1.5, 47: 3.0, 48: 1.0, 51: 3.0, 52: 9.0, 53: 4.0, 54: 1.0},
    {42: 1.0, 43: 2.0, 44: 1.2, 55: 1.4, 56: 2.6, 57: 1.0},
    {44: 2.0, 45: 5.0, 46: 12.0, 47: 4.0, 48: 1.0, 57: 1.2, 58: 2.0},
    {45: 1.5, 46: 7.0, 47: 15.7, 48: 10.0, 49: 3.0, 50: 0.5},
    {46: 1.0, 47: 3.5, 48: 8.3, 49: 3.0, 50: 0.8, 57: 2.0, 58: 5.2, 59: 2.0},
    {42: 0.6, 43: 1.2, 44: 0.5, 51: 1.0, 52: 2.0, 53: 0.6},
    {38: 0.8, 39: 1.8, 40: 0.8, 53: 1.5, 54: 4.2, 55: 1.5, 60: 3.0},
    {33: 0.5, 34: 3.0, 35: 10.9, 36: 3.5, 37: 0.8, 48: 1.2, 49: 2.4, 50: 1.0},
    {41: 1.0, 42: 3.5, 43: 9.1, 44: 3.0, 45: 1.0, 54: 1.5, 55: 2.5, 56: 1.0},
    {47: 0.8, 48: 1.8, 49: 0.6, 52: 2.0, 53: 4.0, 54: 8.0, 55: 3.0, 56: 1.0},
    {43: 1.5, 44: 3.5, 45: 6.9, 46: 2.5, 47: 0.8, 58: 1.0, 59: 2.0},
    {39: 0.8, 40: 1.6, 41: 0.5, 53: 1.5, 54: 4.0, 55: 9.6, 56: 3.5, 57: 1.0},
    {45: 1.2, 46: 2.2, 47: 1.0, 56: 1.0, 57: 2.4, 58: 1.0},
    {27: 1.5, 28: 1.5, 29: 0.2, 30: 4.4, 31: 11.1, 32: 4.4, 33: 0.5, 34: 0.6, 35: 2.0, 36: 3.3,
     37: 5.8, 38: 8.0, 39: 9.7, 40: 1.6, 41: 1.5, 42: 1.0},
    {33: 0.6, 34: 2.0, 35: 10.1, 36: 2.0, 37: 0.5, 46: 1.0, 47: 2.0, 48: 0.8},
    {48: 1.0, 49: 2.5, 50: 4.0, 51: 9.1, 52: 4.0, 53: 1.0},
    {44: 0.8, 45: 1.6, 46: 0.6, 59: 1.5, 60: 3.5},
    {47: 1.2, 48: 2.4, 49: 1.0, 54: 1.0, 55: 2.0, 56: 0.8},
    {41: 1.0, 42: 2.0, 43: 0.8, 56: 1.2, 57: 2.5, 58: 1.0},
    {46: 0.8, 47: 1.8, 48: 0.6, 55: 0.8, 56: 1.6, 57: 0.6},
    {44: 1.5, 45: 4.0, 46: 9.7, 47: 4.5, 48: 1.5, 49: 0.5},
    {51: 1.5, 52: 4.5, 53: 2.0, 57: 1.5, 58: 3.5, 59: 7.1, 60: 3.0},
    {49: 1.0, 50: 2.0, 51: 1.0, 57: 1.0, 58: 2.5, 59: 1.0},
    {40: 1.5, 41: 4.0, 42: 8.3, 43: 3.0, 44: 1.0, 55: 1.0, 56: 2.0, 57: 1.0},
    {43: 0.5, 44: 1.2, 45: 0.5, 53: 0.8, 54: 1.6, 55: 0.6},
    {48: 1.0, 49: 3.0, 50: 5.0, 51: 11.1, 52: 4.0, 53: 1.0},
    {40: 0.8, 41: 1.8, 42: 0.8, 49: 1.0, 50: 2.2, 51: 1.0},
    {45: 1.5, 46: 3.0, 47: 1.2, 55: 1.2, 56: 3.0, 57: 5.3, 58: 2.0},
    {38: 0.6, 39: 1.5, 40: 0.6, 55: 1.0, 56: 2.4, 57: 1.0, 59: 2.5, 60: 6.7},
    {47: 0.8, 48: 1.6, 49: 0.6, 53: 1.0, 54: 2.2, 55: 4.8, 56: 2.0},
    {44: 0.6, 45: 1.4, 46: 0.6, 51: 1.0, 52: 2.0, 53: 0.8},
    {48: 1.0, 49: 2.0, 50: 4.5, 51: 2.0, 52: 0.6, 58: 1.5, 59: 3.0, 60: 1.5},
    {41: 0.8, 42: 1.6, 43: 0.6, 52: 1.2, 53: 2.6, 54: 1.0},
    {46: 0.8, 47: 2.0, 48: 5.0, 49: 1.5, 58: 0.8, 59: 1.6, 60: 4.0},
]

MEAN850 = [11.1,10.3,10.1,9.1,8.6,9.4,10.0,10.4,11.8,11.1,10.0,9.3,9.9,9.7,9.9,9.9,10.5,10.5,10.8,11.1,11.3,11.2,11.2,11.1,10.5,10.3,9.9,9.5,9.4,8.6,8.3]
MEAN500 = [-17.0,-16.6,-15.0,-13.3,-12.9,-13.7,-13.5,-13.9,-13.6,-14.7,-15.1,-15.8,-16.4,-16.6,-16.6,-16.6,-16.3,-16.0,-15.6,-14.9,-14.2,-13.6,-13.3,-13.6,-13.8,-14.2,-14.5,-14.4,-14.9,-15.5,-15.8]
MEANP = {26: 0.1, 27: 0.2, 28: 0.3, 29: 0.3, 30: 0.4, 31: 0.6, 32: 0.5, 33: 0.3, 34: 0.4, 35: 0.7,
         36: 0.5, 37: 0.6, 38: 0.8, 39: 1.0, 40: 1.0, 41: 0.9, 42: 1.1, 43: 1.2, 44: 1.2, 45: 1.1,
         46: 1.4, 47: 1.7, 48: 1.3, 49: 0.7, 50: 0.5, 51: 1.2, 52: 1.3, 53: 1.0, 54: 0.9, 55: 0.8,
         56: 0.8, 57: 0.9, 58: 0.9, 59: 1.0, 60: 1.0}

CTRL850 = [11.1,10.3,10.1,9.4,8.6,9.5,10.1,10.4,11.8,11.2,10.0,9.4,9.9,9.7,9.9,9.9,10.5,10.6,10.9,11.2,11.4,11.2,11.2,10.8,10.0,9.3,7.0,2.0,0.2,-1.0,0.1]
CTRL500 = [-17.0,-16.6,-15.0,-13.3,-12.9,-13.7,-13.5,-13.9,-13.6,-14.7,-15.2,-15.9,-16.6,-17.3,-17.6,-18.0,-18.0,-18.2,-18.0,-18.2,-17.3,-17.0,-15.0,-12.3,-12.8,-13.4,-13.6,-16.8,-19.2,-18.6,-19.3]
CTRLP = {29: 0.5, 30: 1.3, 31: 1.5, 32: 1.4, 33: 0.5, 34: 0.2, 38: 0.5, 39: 0.8, 40: 0.8}

HRES850 = [11.1,10.3,10.5,9.7,8.6,9.7,10.1,10.2,11.8,11.4,10.0,9.0,10.4,9.7,9.7,8.9,10.1,10.5,10.1,10.3,10.1]
HRES500 = [-17.0,-16.6,-15.0,-13.2,-12.8,-13.4,-13.3,-13.6,-13.4,-14.6,-15.6,-16.0,-16.8,-17.2,-17.1,-17.1,-16.8,-16.9,-16.9,-17.3,-16.0]
HRESP = {28: 0.4, 29: 0.5, 30: 0.3, 37: 0.3, 38: 0.6, 39: 0.4, 40: 0.2}
HRES_STEPS = 40   # deterministic run ends at +240 h

# ---------------- geometry helpers (page pixel -> data units) ----------------
def hx(X):
    return (X - 50.0) * 360.0 / 641.0


def ty(Y):
    return (231.0 - Y) / 7.0


MONO = "DejaVu Sans Mono"
SANS = "Liberation Sans"

# one canvas: the frame covers the whole page, the chart area is 50..691 x 0..600 px
p = figure(width=740, height=700, output_backend="svg", toolbar_location=None,
           x_range=Range1d(hx(0), hx(740)), y_range=Range1d(ty(700), ty(0)),
           x_axis_location=None, y_axis_location=None,
           min_border_left=0, min_border_right=0, min_border_top=0, min_border_bottom=0,
           title=None)
p.outline_line_color = None
p.xgrid.visible = False
p.ygrid.visible = False
p.background_fill_color = "white"
p.border_fill_color = "white"
p.extra_y_ranges = {"mm": Range1d(ty(700) + 45, ty(0) + 45)}

T_TOP, T_BOT = ty(0), ty(600)
day_ticks = [24 * i for i in range(16)]

# grid
p.segment(x0=day_ticks, y0=[T_BOT] * 16, x1=day_ticks, y1=[T_TOP] * 16,
          line_color="#c0c0c0", line_width=1)
p.segment(x0=[0] * len(LEFT_TICKS), y0=LEFT_TICKS, x1=[360] * len(LEFT_TICKS), y1=LEFT_TICKS,
          line_color="#c0c0c0", line_width=2)
p.segment(x0=[0], y0=[0.1], x1=[360], y1=[0.1], line_color="#808080", line_width=2)
# time axis line
p.segment(x0=[0], y0=[ty(600.5)], x1=[360], y1=[ty(600.5)], line_color="black", line_width=1)

# tick labels (left: °C, right: mm)
p.text(x=[hx(32)] * len(LEFT_TICKS), y=LEFT_TICKS, text=[str(t) for t in LEFT_TICKS],
       text_font=value(SANS), text_font_size=value("10px"), text_align="right",
       text_baseline="middle", text_color="black", y_offset=1.5)
p.text(x=[hx(708)] * len(RIGHT_TICKS), y=RIGHT_TICKS, text=[str(t) for t in RIGHT_TICKS],
       text_font=value(SANS), text_font_size=value("10px"), text_align="left",
       text_baseline="middle", text_color="black", y_offset=1.5, y_range_name="mm")
p.text(x=[24 * i + hx(56) for i in range(16)], y=[ty(631)] * 16, text=DATES, angle=pi / 2,
       text_font=value(MONO), text_font_size=value("10px"), text_align="left",
       text_baseline="middle", text_color="black")


def member_sources(series, hours):
    xs, ys, cols, px, py, pc = [], [], [], [], [], []
    for i, v in enumerate(series):
        h = hours[:len(v)]
        xs.append(h)
        ys.append(v)
        cols.append(COLORS[i])
        px.extend(h)
        py.extend(v)
        pc.extend([COLORS[i]] * len(h))
    return (ColumnDataSource(dict(xs=xs, ys=ys, c=cols)),
            ColumnDataSource(dict(x=px, y=py, c=pc)))


precip_series = [[d.get(j, 0.0) for j in range(1, 61)] for d in PRECIP]

for series, hours, rng in [(T850, HOURS_T, "default"), (T500, HOURS_T, "default"),
                           (precip_series, HOURS_P, "mm")]:
    ls, ps = member_sources(series, hours)
    p.multi_line(xs="xs", ys="ys", line_color="c", line_width=1, source=ls, y_range_name=rng)
    p.scatter(x="x", y="y", marker="cross", size=4, line_color="c", line_width=1,
              source=ps, y_range_name=rng)

# control run (blue)
p.line(HOURS_T, CTRL850, line_color="#0000ff", line_width=3)
p.line(HOURS_T, CTRL500, line_color="#0000ff", line_width=3)
p.line(HOURS_P, [CTRLP.get(j, 0.0) for j in range(1, 61)], line_color="#0000ff",
       line_width=3, y_range_name="mm")

# deterministic run (black)
p.line(HOURS_T[:len(HRES850)], HRES850, line_color="black", line_width=4)
p.line(HOURS_T[:len(HRES500)], HRES500, line_color="black", line_width=4)
p.line(HOURS_P[:HRES_STEPS], [HRESP.get(j, 0.0) for j in range(1, HRES_STEPS + 1)],
       line_color="black", line_width=4, y_range_name="mm")

# ensemble mean (red)
p.line(HOURS_T, MEAN850, line_color="#ff0000", line_width=5)
p.line(HOURS_T, MEAN500, line_color="#ff0000", line_width=5)
p.line(HOURS_P, [MEANP.get(j, 0.0) for j in range(1, 61)], line_color="#ff0000",
       line_width=5, y_range_name="mm")


def txt(X, Y, t, size="10px", bold=False, align="left"):
    p.text(x=[hx(X)], y=[ty(Y)], text=[t], text_font=value(MONO), text_font_size=value(size),
           text_font_style=value("bold" if bold else "normal"), text_align=align,
           text_baseline="middle", text_color="black")


txt(60, 142, "Temp. 850hPa")
txt(60, 303, "Temp. 500hPa")
txt(59, 537, "Précipitations")
txt(20, 607, "(°C)")
txt(709, 607, "(mm)")

# legend line samples
p.quad(left=[hx(35), hx(225), hx(225)], right=[hx(66), hx(256), hx(256)],
       top=[ty(635.3), ty(635.3), ty(645.3)], bottom=[ty(639.3), ty(639.3), ty(649.3)],
       fill_color=["#ff0000", "#0000ff", "#000000"], line_color=None)
txt(75, 637.5, "Moyenne des scénarios")
txt(264, 637.5, "Run de contrôle")
txt(264, 647.5, "Run CEP/ECMWF")
txt(369, 652, "50 Perts.")

# member colour swatches
SX0, SW = 430.0, 11.3
sl = [hx(SX0 + i * SW) for i in range(25)]
sr = [hx(SX0 + i * SW + SW - 1) for i in range(25)]
p.quad(left=sl + sl, right=sr + sr, top=[ty(645)] * 25 + [ty(651.5)] * 25,
       bottom=[ty(651.5)] * 25 + [ty(658)] * 25, fill_color=COLORS, line_color=None)
cx = [hx(SX0 + i * SW + (SW - 1) / 2) for i in range(25)]
p.text(x=cx, y=[ty(638)] * 25, text=["%02d" % (i + 1) for i in range(25)],
       text_font=value(MONO), text_font_size=value("7.5px"), text_font_style=value("bold"),
       text_align="center", text_baseline="middle", text_color="black")
p.text(x=cx, y=[ty(661.5)] * 25, text=["%02d" % (i + 26) for i in range(25)],
       text_font=value(MONO), text_font_size=value("7.5px"), text_font_style=value("bold"),
       text_align="center", text_baseline="middle", text_color="black")

# title box
p.quad(left=[hx(20.5)], right=[hx(440)], top=[ty(667)], bottom=[ty(699.2)], fill_alpha=0,
       line_color="black", line_width=1.5)
txt(30, 677, "Diagramme ensembles ECMWF/CEP 0.4° sur 360h pour Paris", size="11.4px", bold=True)
txt(30, 691, "Températures 850hPa et 500hPa (°C) , précipitations (mm)")
txt(449, 676, "Ensemble ECMWF/CEP du 29/05/2023 - 00Z")
txt(449, 691, "Copyright 2023 Meteociel.fr - ECMWF", size="11.4px", bold=True)

open("out.html", "w").write(file_html(p, INLINE))
